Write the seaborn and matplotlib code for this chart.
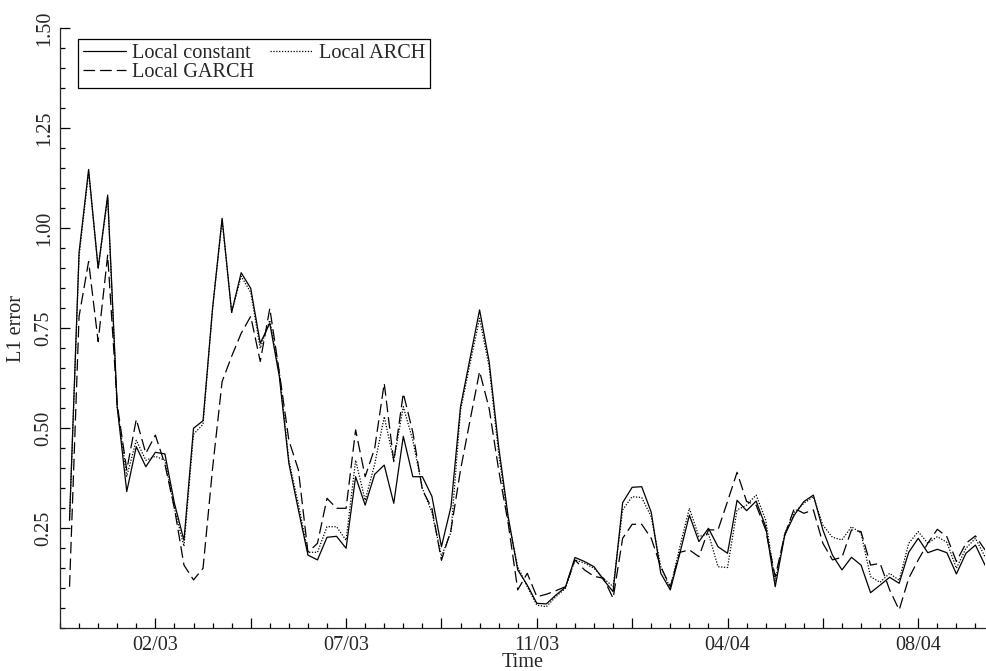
import numpy as np
import pandas as pd
import matplotlib
matplotlib.use("Agg")
import matplotlib.pyplot as plt
import seaborn as sns
from matplotlib.ticker import MultipleLocator, FixedLocator, FixedFormatter

# ---------------- data ----------------
t = list(range(1, 98))

local_constant = [
    0.27, 0.94, 1.147, 0.90, 1.083, 0.554, 0.342, 0.454, 0.404, 0.44,
    0.436, 0.3125, 0.22, 0.50, 0.519, 0.80, 1.025, 0.79, 0.889, 0.85,
    0.7125, 0.7625, 0.629, 0.4125, 0.296, 0.183, 0.171, 0.2275, 0.23, 0.20,
    0.379, 0.308, 0.385, 0.408, 0.3125, 0.48, 0.379, 0.379, 0.33, 0.204,
    0.304, 0.554, 0.675, 0.796, 0.667, 0.454, 0.279, 0.146, 0.108, 0.0625,
    0.061, 0.083, 0.1025, 0.177, 0.167, 0.154, 0.121, 0.0917, 0.314, 0.3525,
    0.354, 0.29, 0.1375, 0.096, 0.1875, 0.283, 0.2167, 0.25, 0.204, 0.1875,
    0.32, 0.294, 0.318, 0.254, 0.104, 0.233, 0.283, 0.3167, 0.333, 0.246,
    0.183, 0.146, 0.1775, 0.158, 0.089, 0.108, 0.1275, 0.1125, 0.19, 0.225,
    0.189, 0.1975, 0.189, 0.136, 0.1875, 0.208, 0.158,
]

local_arch = [
    0.27, 0.93, 1.14, 0.90, 1.075, 0.55, 0.38, 0.47, 0.42, 0.43,
    0.42, 0.30, 0.205, 0.485, 0.51, 0.80, 1.02, 0.79, 0.88, 0.84,
    0.70, 0.77, 0.64, 0.42, 0.31, 0.19, 0.19, 0.254, 0.254, 0.22,
    0.42, 0.32, 0.41, 0.529, 0.42, 0.554, 0.47, 0.35, 0.29, 0.18,
    0.24, 0.545, 0.662, 0.775, 0.654, 0.437, 0.27, 0.154, 0.104, 0.058,
    0.054, 0.079, 0.10, 0.171, 0.163, 0.15, 0.125, 0.104, 0.296, 0.329,
    0.327, 0.279, 0.154, 0.10, 0.204, 0.30, 0.229, 0.237, 0.154, 0.152,
    0.296, 0.308, 0.333, 0.271, 0.117, 0.237, 0.29, 0.3125, 0.329, 0.258,
    0.2275, 0.221, 0.254, 0.2375, 0.129, 0.115, 0.1375, 0.12, 0.2125, 0.2417,
    0.2125, 0.229, 0.215, 0.15, 0.20, 0.225, 0.179,
]

local_garch = [
    0.104, 0.78, 0.917, 0.717, 0.933, 0.56, 0.396, 0.5225, 0.4375, 0.483,
    0.41, 0.30, 0.158, 0.121, 0.15, 0.40, 0.617, 0.68, 0.7375, 0.78,
    0.667, 0.80, 0.64, 0.47, 0.396, 0.19, 0.2125, 0.325, 0.30, 0.30,
    0.496, 0.379, 0.45, 0.6125, 0.4167, 0.5875, 0.49, 0.346, 0.30, 0.17,
    0.246, 0.396, 0.52, 0.642, 0.55, 0.396, 0.262, 0.096, 0.1375, 0.079,
    0.085, 0.094, 0.104, 0.171, 0.146, 0.13, 0.125, 0.075, 0.225, 0.26,
    0.26, 0.225, 0.154, 0.104, 0.19, 0.196, 0.179, 0.246, 0.246, 0.317,
    0.39, 0.317, 0.308, 0.246, 0.129, 0.233, 0.30, 0.2875, 0.296, 0.2125,
    0.171, 0.1775, 0.246, 0.2417, 0.158, 0.1625, 0.096, 0.046, 0.125, 0.171,
    0.2125, 0.2475, 0.229, 0.167, 0.2125, 0.231, 0.196,
]

series_names = ["Local constant", "Local ARCH", "Local GARCH"]
x_tick_positions = [10, 20, 30, 40, 50, 60, 70, 80, 90]
x_tick_labels = ["02/03", "", "07/03", "", "11/03", "", "04/04", "", "08/04"]
y_tick_positions = [0.25, 0.50, 0.75, 1.00, 1.25, 1.50]
y_tick_labels = ["0.25", "0.50", "0.75", "1.00", "1.25", "1.50"]

# ---------------- style ----------------
sns.set_style("ticks")
plt.rcParams['font.family'] = ['Liberation Serif', 'DejaVu Serif']
plt.rcParams['font.size'] = 14.6
plt.rcParams['axes.linewidth'] = 0.9

FS = 14.6

df = pd.DataFrame({
    "Time": t * 3,
    "L1 error": local_constant + local_arch + local_garch,
    "Model": ([series_names[0]] * len(t) + [series_names[1]] * len(t)
              + [series_names[2]] * len(t)),
})

fig = plt.figure(figsize=(9.87, 6.71), dpi=100)
W, H = 987, 671
ax = fig.add_axes([60 / W, 1 - 628.3 / H, 925 / W, 600 / H])

sns.lineplot(
    data=df, x="Time", y="L1 error", hue="Model", style="Model",
    hue_order=series_names, style_order=series_names,
    palette={n: "black" for n in series_names},
    dashes={"Local constant": "", "Local ARCH": (1, 1.3), "Local GARCH": (9.3, 4)},
    lw=0.9, ax=ax, legend=False, estimator=None, sort=False,
)

ax.set_xlim(0, 97)
ax.set_ylim(0, 1.5)
sns.despine(ax=ax)

ax.xaxis.set_major_locator(FixedLocator(x_tick_positions))
ax.xaxis.set_major_formatter(FixedFormatter(x_tick_labels))
ax.xaxis.set_minor_locator(MultipleLocator(2))
ax.yaxis.set_major_locator(FixedLocator(y_tick_positions))
ax.yaxis.set_major_formatter(FixedFormatter(y_tick_labels))
ax.yaxis.set_minor_locator(MultipleLocator(0.05))

ax.tick_params(which="major", direction="in", length=7, width=0.9, labelsize=FS, color="black")
ax.tick_params(which="minor", direction="in", length=3.3, width=0.9, color="black")
ax.tick_params(axis="x", which="major", pad=5.5)
ax.tick_params(axis="y", which="major", pad=4.5, labelrotation=90)
for lab in ax.get_yticklabels():
    lab.set_va("center")

ax.set_xlabel("Time", fontsize=FS, labelpad=-1.5)
ax.set_ylabel("L1 error", fontsize=FS, labelpad=6)

lines = ax.lines[:3]
handles = [lines[0], lines[2], lines[1]]
labels = [series_names[0], series_names[2], series_names[1]]
leg = ax.legend(
    handles, labels, ncol=2, loc="upper left",
    bbox_to_anchor=(18 / 925, (628.3 - 39) / 600), borderaxespad=0,
    fontsize=FS, frameon=True, fancybox=False, framealpha=1,
    edgecolor="black", handlelength=2.1, handletextpad=0.3,
    columnspacing=0.8, labelspacing=0.0, borderpad=0.25,
)
leg.get_frame().set_linewidth(0.9)

fig.savefig("out.png", dpi=100)
